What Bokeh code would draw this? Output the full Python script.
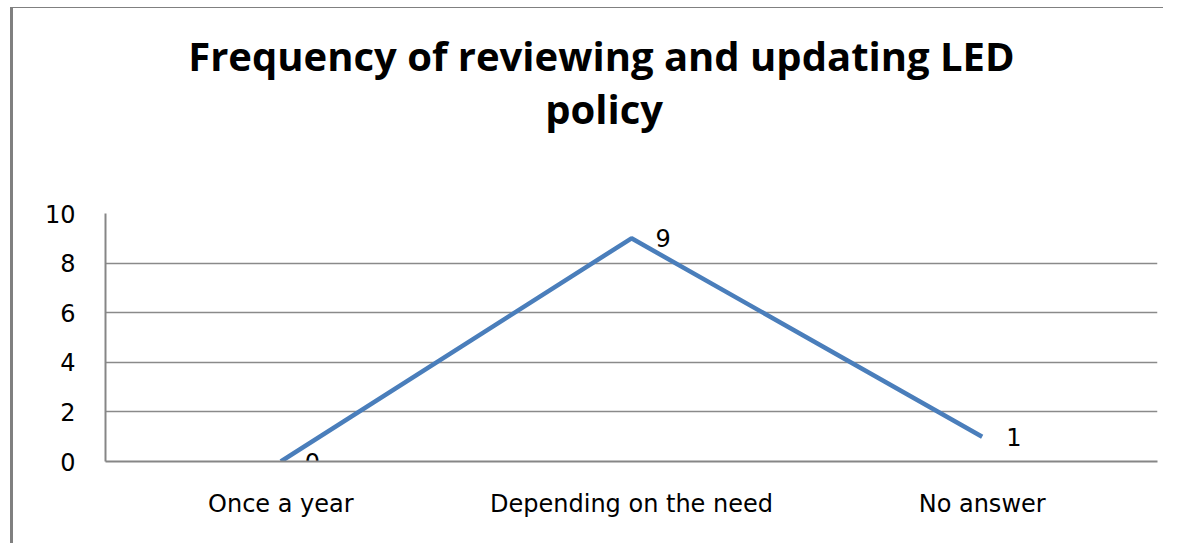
from bokeh.plotting import figure
from bokeh.models import Range1d, FactorRange, ColumnDataSource, FixedTicker, Spacer
from bokeh.layouts import column, row
from bokeh.core.properties import value
from bokeh.embed import file_html
from bokeh.resources import INLINE

categories = ["Once a year", "Depending on the need", "No answer"]
counts = [0, 9, 1]
y_ticks = [0, 2, 4, 6, 8, 10]
title_lines = ["Frequency of reviewing and updating LED", "policy"]

W = 1153
TH = 186
CH = 350

# ---- title panel (its own figure, pixel-sized ranges) ----
tf = figure(width=W, height=TH, output_backend="svg", toolbar_location=None,
            x_axis_type=None, y_axis_type=None,
            x_range=Range1d(0, W), y_range=Range1d(0, TH),
            min_border=0, min_border_left=0, min_border_right=0,
            min_border_top=0, min_border_bottom=0)
tf.grid.visible = False
tf.outline_line_color = None
tf.styles = {"border-top": "1px solid #808080", "border-left": "3px solid #808080"}
tsrc = ColumnDataSource(dict(x=[W / 2 - 33, W / 2 - 30], y=[TH - 47, TH - 100], t=title_lines))
tf.text("x", "y", text="t", source=tsrc, text_align="center", text_baseline="alphabetic",
        text_font=value("Open Sans"), text_font_style="bold", text_font_size="40px",
        text_color="black")

# ---- chart ----
src = ColumnDataSource(dict(x=categories, y=counts, lab=[str(v) for v in counts]))

p = figure(width=W, height=CH, output_backend="svg", toolbar_location=None,
           x_range=FactorRange(*categories, range_padding=0), y_range=Range1d(0, 10),
           min_border_left=92, min_border_right=9, min_border_top=20, min_border_bottom=82)
p.outline_line_color = None
p.styles = {"border-left": "3px solid #808080"}

p.line("x", "y", source=src, line_color="#4a7ebb", line_width=4.5)
p.text("x", "y", text="lab", source=src, x_offset=24, text_align="left", text_baseline="middle",
       text_font=value("DejaVu Sans"), text_font_size="24px", text_color="black")

p.xgrid.grid_line_color = None
p.ygrid.grid_line_color = "#8a8a8a"
p.ygrid.grid_line_width = 1.5
p.yaxis.ticker = FixedTicker(ticks=y_ticks)

for ax in (p.xaxis[0], p.yaxis[0]):
    ax.axis_line_color = "#868686"
    ax.axis_line_width = 2
    ax.major_tick_line_color = None
    ax.minor_tick_line_color = None
    ax.major_tick_out = 0
    ax.major_tick_in = 0
    ax.major_label_text_font = "DejaVu Sans"
    ax.major_label_text_font_size = "24px"
    ax.major_label_text_color = "black"
p.yaxis.major_label_standoff = 30
p.xaxis.major_label_standoff = 28

layout = column(Spacer(height=7), row(Spacer(width=10), column(tf, p)))
open("out.html", "w").write(file_html(layout, INLINE))
